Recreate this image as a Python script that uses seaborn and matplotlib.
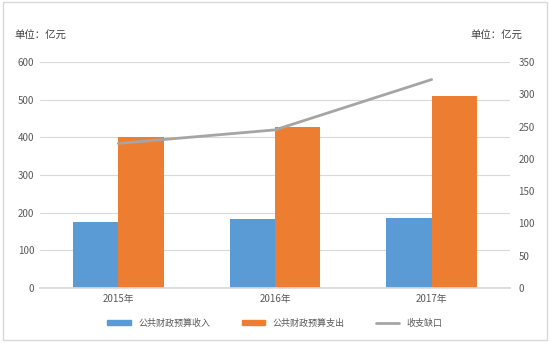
import matplotlib
matplotlib.use("Agg")
import matplotlib.pyplot as plt
import matplotlib.patches as mpatches
import matplotlib.lines as mlines
import pandas as pd
import seaborn as sns

# data (亿元)
YEARS = ["2015年", "2016年", "2017年"]
REVENUE = [176, 183, 187]        # 公共财政预算收入
EXPENDITURE = [400, 428, 510]    # 公共财政预算支出
GAP = [224, 245, 323]            # 收支缺口 (right axis)
LABELS = ["公共财政预算收入", "公共财政预算支出", "收支缺口"]
COLORS = ["#5B9BD5", "#ED7D31", "#A5A5A5"]

sns.set_theme(style="white")
plt.rcParams["font.family"] = ["Noto Sans CJK SC", "DejaVu Sans"]

bars = pd.DataFrame({"year": YEARS, LABELS[0]: REVENUE, LABELS[1]: EXPENDITURE}).melt(
    id_vars="year", var_name="series", value_name="value"
)
line = pd.DataFrame({"year": YEARS, "gap": GAP})

fig = plt.figure(figsize=(5.5, 3.51), dpi=100)
ax = fig.add_axes([0.0727, 0.1795, 0.8545, 0.6435])

sns.barplot(
    data=bars, x="year", y="value", hue="series", order=YEARS,
    hue_order=LABELS[:2], palette=COLORS[:2], width=0.58,
    saturation=1, legend=False, linewidth=0, ax=ax,
)
ax.set_ylim(0, 600)
ax.set_xlim(-0.5, 2.5)
ax.set_yticks(range(0, 601, 100))
ax.yaxis.grid(True, color="#D9D9D9", linewidth=0.8)
ax.set_axisbelow(True)
for s in ["top", "right", "left"]:
    ax.spines[s].set_visible(False)
ax.spines["bottom"].set_color("#D9D9D9")
ax.set_xlabel("")
ax.set_ylabel("")
ax.tick_params(axis="both", length=0, labelsize=7, colors="#595959", pad=4)

ax2 = ax.twinx()
sns.lineplot(data=line, x="year", y="gap", color=COLORS[2], linewidth=2, ax=ax2)
ax2.set_ylim(0, 350)
ax2.set_yticks(range(0, 351, 50))
for s in ax2.spines.values():
    s.set_visible(False)
ax2.set_ylabel("")
ax2.set_xlabel("")
ax2.tick_params(axis="y", length=0, labelsize=7, colors="#595959", pad=6)
ax2.set_xlim(-0.5, 2.5)

fig.text(0.027, 0.89, "单位：亿元", fontsize=7.5, color="#404040")
fig.text(0.855, 0.89, "单位：亿元", fontsize=7.5, color="#404040")

handles = [
    mpatches.Patch(color=COLORS[0], label=LABELS[0]),
    mpatches.Patch(color=COLORS[1], label=LABELS[1]),
    mlines.Line2D([], [], color=COLORS[2], linewidth=2, label=LABELS[2]),
]
fig.legend(
    handles=handles, loc="center", bbox_to_anchor=(0.5, 0.08), ncol=3,
    frameon=False, fontsize=6.5, handlelength=2.6, handleheight=0.5,
    columnspacing=3.5, labelcolor="#595959",
)

fig.patches.append(mpatches.Rectangle(
    (0.006, 0.03), 0.988, 0.965, transform=fig.transFigure,
    fill=False, edgecolor="#D9D9D9", linewidth=1,
))

fig.savefig("out.png", dpi=100)
